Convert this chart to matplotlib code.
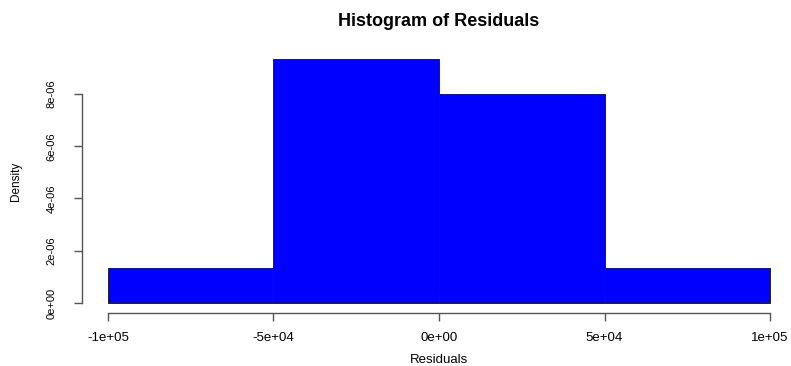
import matplotlib
matplotlib.use("Agg")
import matplotlib.pyplot as plt
import numpy as np

plt.rcParams['font.family'] = ['Liberation Sans', 'DejaVu Sans']

# histogram of residuals: bin edges and densities
bin_edges = [-1e5, -5e4, 0, 5e4, 1e5]
density = [1.333e-6, 9.333e-6, 8.0e-6, 1.333e-6]
xticks = [-1e5, -5e4, 0, 5e4, 1e5]
xtick_labels = ["-1e+05", "-5e+04", "0e+00", "5e+04", "1e+05"]
yticks = [0, 2e-6, 4e-6, 6e-6, 8e-6]
ytick_labels = ["0e+00", "2e-06", "4e-06", "6e-06", "8e-06"]

W, H = 791, 366
fig = plt.figure(figsize=(W / 100, H / 100), dpi=100)
ax = fig.add_axes([81.5 / W, (H - 312.75) / H, 715 / W, 263.35 / H])

left = np.array(bin_edges[:-1])
widths = np.diff(bin_edges)
ax.bar(left, density, width=widths, align='edge', color='#0000FF',
       edgecolor='#222222', linewidth=0.7)

# R-like axes: 4% padding, axis lines only over tick range
xr = bin_edges[-1] - bin_edges[0]
ax.set_xlim(bin_edges[0] - 0.04 * xr, bin_edges[-1] + 0.04 * xr)
ymax = max(density)
ax.set_ylim(-0.04 * ymax, ymax * 1.04)

for s in ['top', 'right']:
    ax.spines[s].set_visible(False)
ax.spines['left'].set_bounds(yticks[0], yticks[-1])
ax.spines['bottom'].set_bounds(xticks[0], xticks[-1])
for s in ['left', 'bottom']:
    ax.spines[s].set_color('#555555')
    ax.spines[s].set_linewidth(1.0)

ax.set_xticks(xticks)
ax.set_xticklabels(xtick_labels, fontsize=9.5)
ax.set_yticks(yticks)
ax.set_yticklabels(ytick_labels, fontsize=8, rotation=90, va='center')
ax.tick_params(direction='out', length=6, width=1.0, color='#555555')
ax.tick_params(axis='x', pad=8)
ax.tick_params(axis='y', pad=12)

# labels centred on the plot region
cx = (81.5 + 796.5) / 2
fig.text(cx / W, (H - 363) / H, "Residuals", ha='center', va='baseline',
         fontsize=9.5)
fig.text(16 / W, (H - 181) / H, "Density", ha='center', va='center',
         rotation=90, fontsize=8.5)
fig.text(cx / W, (H - 21) / H, "Histogram of Residuals", ha='center',
         va='center', fontsize=13, fontweight='bold')

fig.savefig("out.png", dpi=100)
